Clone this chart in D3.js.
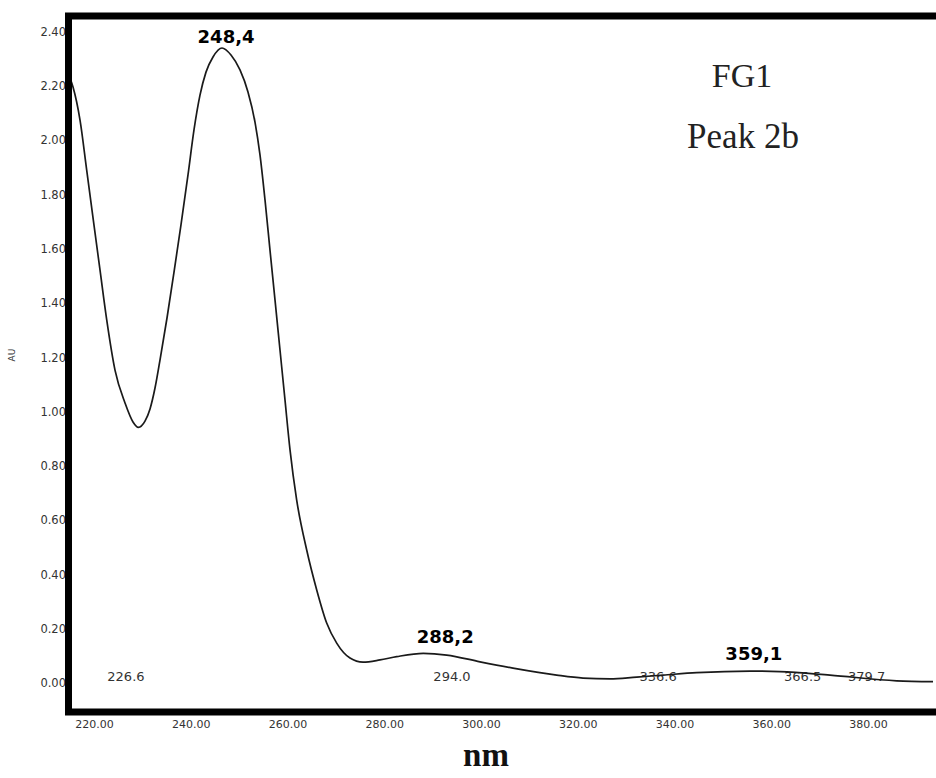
<!DOCTYPE html>
<html>
<head>
<meta charset="utf-8">
<script src="https://cdn.jsdelivr.net/npm/d3@7"></script>
<style>
  html, body { margin: 0; padding: 0; background: #fff; }
  svg { display: block; }
</style>
</head>
<body>
<svg id="chart" width="936" height="778"></svg>
<script>
// ---- data ----
const wavelengths = [215.04, 215.66, 217.11, 218.49, 219.86, 221.24, 222.63, 224.34, 226.41, 228.06,
  229.16, 230.54, 231.58, 232.61, 233.64, 235.09, 236.54, 237.98, 239.43, 240.67,
  241.91, 243.15, 244.60, 246.46, 248.32, 250.18, 251.83, 253.28, 254.32, 255.35,
  256.38, 257.42, 258.45, 259.48, 260.52, 261.90, 263.97, 266.04, 268.10, 270.17,
  272.92, 275.61, 279.12, 282.57, 288.07, 292.91, 299.79, 306.61, 315.65, 321.09,
  326.67, 332.19, 337.62, 344.59, 355.61, 361.81, 372.14, 385.93, 393.44];
const absorbance = [2.229, 2.196, 2.074, 1.890, 1.706, 1.522, 1.338, 1.153, 1.032, 0.962,
  0.942, 0.965, 1.010, 1.087, 1.190, 1.345, 1.514, 1.688, 1.872, 2.038,
  2.166, 2.251, 2.307, 2.340, 2.314, 2.259, 2.178, 2.067, 1.945, 1.780,
  1.595, 1.411, 1.227, 1.043, 0.859, 0.674, 0.490, 0.343, 0.221, 0.147,
  0.092, 0.077, 0.085, 0.097, 0.109, 0.103, 0.078, 0.055, 0.029, 0.018,
  0.015, 0.022, 0.029, 0.038, 0.044, 0.042, 0.029, 0.008, 0.005];

const xTicks = [220, 240, 260, 280, 300, 320, 340, 360, 380];
const yTicks = [0, 0.2, 0.4, 0.6, 0.8, 1.0, 1.2, 1.4, 1.6, 1.8, 2.0, 2.2, 2.4];

// peak labels (bold) : text, label anchor wavelength, label baseline absorbance
const peakTexts = ["248,4", "288,2", "359,1"];
const peakLabelNm = [247.3, 292.6, 356.4];
const peakLabelAu = [2.358, 0.147, 0.085];

// small wavelength labels printed at their own wavelength
const minorLabels = [226.6, 294.0, 336.6, 366.5, 379.7];
const minorLabelAu = 0.007;

const titleLines = ["FG1", "Peak 2b"];
const xTitle = "nm";
const yTitle = "AU";

// ---- layout ----
const svg = d3.select("#chart");
const x = d3.scaleLinear().domain([220, 380]).range([94, 868]);
const y = d3.scaleLinear().domain([0, 2.4]).range([683, 31.7]);

const frameLeft = 68.5, frameTop = 16, frameBottom = 712, frameRight = 940;

// axes (labels only, no tick marks)
const xAxis = d3.axisBottom(x).tickValues(xTicks).tickSize(0).tickPadding(8)
  .tickFormat(d3.format(".2f"));
const gx = svg.append("g").attr("transform", `translate(0,${frameBottom})`).call(xAxis);
gx.select(".domain").remove();
gx.selectAll("text").attr("font-family", "DejaVu Sans").attr("font-size", 11).attr("fill", "#333");

const yAxis = d3.axisLeft(y).tickValues(yTicks).tickSize(0).tickPadding(0)
  .tickFormat(d3.format(".2f"));
const gy = svg.append("g").attr("transform", `translate(66,0)`).call(yAxis);
gy.select(".domain").remove();
gy.selectAll("text").attr("font-family", "DejaVu Sans").attr("font-size", 11.5).attr("fill", "#333");

// AU title
svg.append("text")
  .attr("transform", "translate(15,355) rotate(-90)")
  .attr("text-anchor", "middle")
  .attr("font-family", "DejaVu Sans").attr("font-size", 9).attr("fill", "#333")
  .text(yTitle);

// x title
svg.append("text")
  .attr("x", 486).attr("y", 766)
  .attr("text-anchor", "middle")
  .attr("font-family", "Liberation Serif").attr("font-weight", "bold").attr("font-size", 33)
  .attr("fill", "#111")
  .text(xTitle);

// minor labels
svg.append("g").selectAll("text").data(minorLabels).join("text")
  .attr("x", d => x(d)).attr("y", y(minorLabelAu))
  .attr("text-anchor", "middle")
  .attr("font-family", "DejaVu Sans").attr("font-size", 13).attr("fill", "#333")
  .text(d => d3.format(".1f")(d));

// spectrum line
const pts = wavelengths.map((w, i) => [w, absorbance[i]]);
const line = d3.line().x(d => x(d[0])).y(d => y(d[1])).curve(d3.curveMonotoneX);
svg.append("path").datum(pts)
  .attr("d", line)
  .attr("fill", "none").attr("stroke", "#1a1a1a").attr("stroke-width", 1.7);

// peak labels
svg.append("g").selectAll("text").data(peakTexts).join("text")
  .attr("x", (d, i) => x(peakLabelNm[i])).attr("y", (d, i) => y(peakLabelAu[i]))
  .attr("text-anchor", "middle")
  .attr("font-family", "DejaVu Sans").attr("font-weight", "bold").attr("font-size", 18)
  .attr("fill", "#000")
  .text(d => d);

// title text
svg.append("text").attr("x", 742).attr("y", 87).attr("text-anchor", "middle")
  .attr("font-family", "Liberation Serif").attr("font-size", 34).attr("fill", "#222")
  .text(titleLines[0]);
svg.append("text").attr("x", 743).attr("y", 148).attr("text-anchor", "middle")
  .attr("font-family", "Liberation Serif").attr("font-size", 35).attr("fill", "#222")
  .text(titleLines[1]);

// thick frame (left, top, bottom)
svg.append("path")
  .attr("d", `M${frameRight},${frameTop} L${frameLeft},${frameTop} L${frameLeft},${frameBottom} L${frameRight},${frameBottom}`)
  .attr("fill", "none").attr("stroke", "#000").attr("stroke-width", 7)
  .attr("stroke-linejoin", "miter");
</script>
</body>
</html>
